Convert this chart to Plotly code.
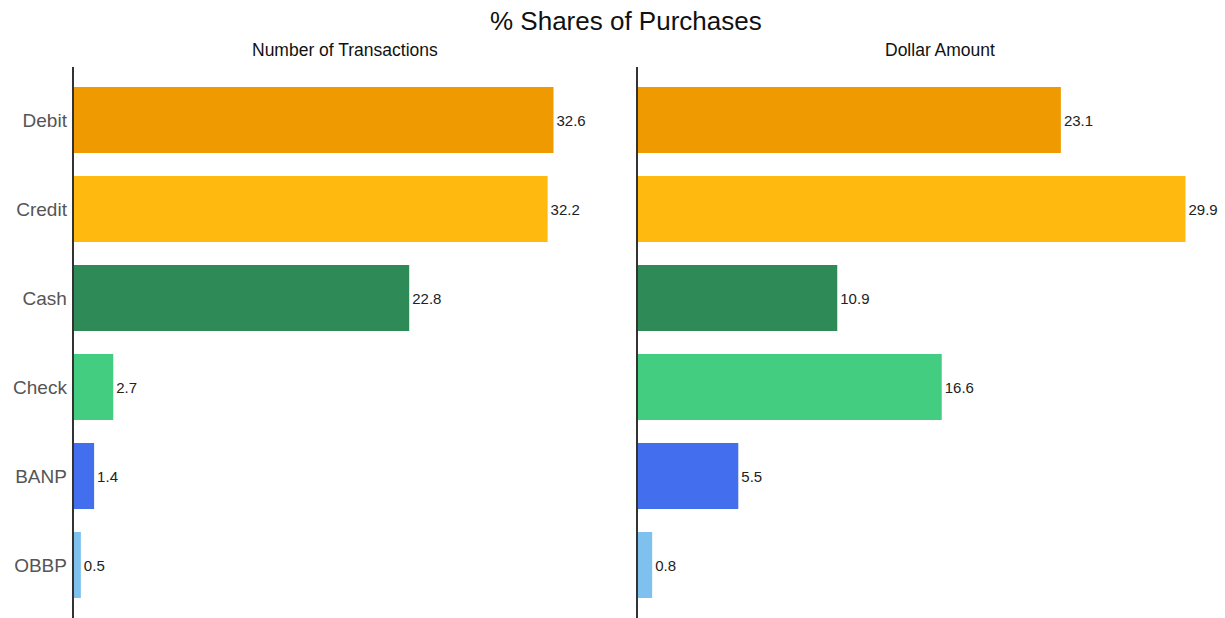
import plotly.graph_objects as go

categories = ["Debit", "Credit", "Cash", "Check", "BANP", "OBBP"]
transactions = [32.6, 32.2, 22.8, 2.7, 1.4, 0.5]
dollars = [23.1, 29.9, 10.9, 16.6, 5.5, 0.8]
colors = ["#EE9A00", "#FFB90F", "#2E8B57", "#43CD80", "#436EEE", "#7EC0EE"]

W, H = 1225, 618

def px(x):
    return x / W

def py(y):
    return 1 - y / H

fig = go.Figure()
fig.add_trace(go.Bar(
    y=categories, x=transactions, orientation="h",
    marker=dict(color=colors, line=dict(width=0)),
    text=[f"{v:.1f}" for v in transactions], textposition="outside",
    textfont=dict(size=15, color="#222222"), cliponaxis=False,
    xaxis="x", yaxis="y", showlegend=False,
))
fig.add_trace(go.Bar(
    y=categories, x=dollars, orientation="h",
    marker=dict(color=colors, line=dict(width=0)),
    text=[f"{v:.1f}" for v in dollars], textposition="outside",
    textfont=dict(size=15, color="#222222"), cliponaxis=False,
    xaxis="x2", yaxis="y2", showlegend=False,
))

k1 = 480 / 32.6
k2 = 548 / 29.9
yrange = [5 + (618 - 565) / 89, -(120 - 67) / 89]
ydom = [0, py(67)]

fig.update_layout(
    width=W, height=H,
    margin=dict(l=0, r=0, t=0, b=0),
    paper_bgcolor="white", plot_bgcolor="white",
    font=dict(family="Liberation Sans, Arial, sans-serif"),
    bargap=0.26,
    xaxis=dict(domain=[px(73.5), px(600)], range=[0, (600 - 73.5) / k1],
               visible=False, fixedrange=True),
    xaxis2=dict(domain=[px(637.5), px(1190)], range=[0, (1190 - 637.5) / k2],
                visible=False, fixedrange=True),
    yaxis=dict(domain=ydom, anchor="x", range=yrange, type="category",
               showline=True, linecolor="#333333", linewidth=1.5,
               showgrid=False, ticks="", tickfont=dict(size=19, color="#555555"),
               ticklabelstandoff=1, fixedrange=True),
    yaxis2=dict(domain=ydom, anchor="x2", range=yrange, type="category",
                showline=True, linecolor="#333333", linewidth=1.5,
                showgrid=False, ticks="", showticklabels=False, fixedrange=True),
    annotations=[
        dict(text="% Shares of Purchases", x=px(626), y=py(21), xref="paper", yref="paper",
             showarrow=False, font=dict(size=26, color="#111111"), xanchor="center", yanchor="middle"),
        dict(text="Number of Transactions", x=px(345), y=py(50), xref="paper", yref="paper",
             showarrow=False, font=dict(size=17.5, color="#111111"), xanchor="center", yanchor="middle"),
        dict(text="Dollar Amount", x=px(940), y=py(50), xref="paper", yref="paper",
             showarrow=False, font=dict(size=17.5, color="#111111"), xanchor="center", yanchor="middle"),
    ],
)

fig.write_html("out.html",
               config={"displayModeBar": False},
               post_script="document.body.style.margin='0px';document.body.style.overflow='hidden';")
